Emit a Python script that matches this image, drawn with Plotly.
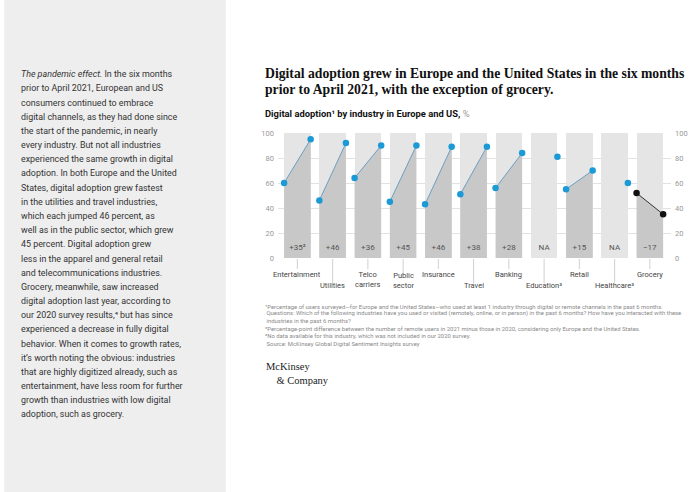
import plotly.graph_objects as go

# ---------------- data ----------------
industries = ["Entertainment", "Utilities", "Telco<br>carriers", "Public<br>sector", "Insurance",
              "Travel", "Banking", "Education³", "Retail", "Healthcare³", "Grocery"]
adoption_2020 = [60, 46, 64, 45, 43, 51, 56, None, 55, None, 52]
adoption_2021 = [95, 92, 90, 90, 89, 89, 84, 81, 70, 60, 35]
change_labels = ["+35²", "+46", "+36", "+45", "+46", "+38", "+28", "NA", "+15", "NA", "−17"]
y_ticks = [0, 20, 40, 60, 80, 100]

title_lines = ["Digital adoption grew in Europe and the United States in the six months",
               "prior to April 2021, with the exception of grocery."]
subtitle = "<b>Digital adoption¹ by industry in Europe and US, </b><span style='color:#999'>%</span>"
footnotes = [
    "¹Percentage of users surveyed—for Europe and the United States—who used at least 1 industry through digital or remote channels in the past 6 months.",
    " Questions: Which of the following industries have you used or visited (remotely, online, or in person) in the past 6 months? How have you interacted with these",
    " industries in the past 6 months?",
    "²Percentage-point difference between the number of remote users in 2021 minus those in 2020, considering only Europe and the United States.",
    "³No data available for this industry, which was not included in our 2020 survey.",
    " Source: McKinsey Global Digital Sentiment Insights survey",
]
side_text = [
    "<i>The pandemic effect.</i> In the six months",
    "prior to April 2021, European and US",
    "consumers continued to embrace",
    "digital channels, as they had done since",
    "the start of the pandemic, in nearly",
    "every industry. But not all industries",
    "experienced the same growth in digital",
    "adoption. In both Europe and the United",
    "States, digital adoption grew fastest",
    "in the utilities and travel industries,",
    "which each jumped 46 percent, as",
    "well as in the public sector, which grew",
    "45 percent. Digital adoption grew",
    "less in the apparel and general retail",
    "and telecommunications industries.",
    "Grocery, meanwhile, saw increased",
    "digital adoption last year, according to",
    "our 2020 survey results,⁴ but has since",
    "experienced a decrease in fully digital",
    "behavior. When it comes to growth rates,",
    "it’s worth noting the obvious: industries",
    "that are highly digitized already, such as",
    "entertainment, have less room for further",
    "growth than industries with low digital",
    "adoption, such as grocery.",
]

# ---------------- layout geometry (pixels) ----------------
W, H = 700, 492
L, R, T, B = 278, 677, 133, 258


def px(x):
    return (x - L) / (R - L)


def py(y):
    return (B - y) / (B - T)


SANS = "Roboto, Arial, sans-serif"
SERIF = "Liberation Serif, Times New Roman, serif"
HALF = 0.377
LIGHT = "#e5e5e5"
DARK = "#c8c8c8"
BLUE = "#1b9ad6"
BLUE_LINE = "#6a9fc6"

fig = go.Figure()
xs = list(range(len(industries)))

# full-height background columns
fig.add_trace(go.Bar(x=xs, y=[y_ticks[-1]] * len(xs), width=2 * HALF, marker_color=LIGHT,
                     marker_line_width=0, hoverinfo="skip", showlegend=False))

for i, (a, b) in enumerate(zip(adoption_2020, adoption_2021)):
    grocery = industries[i] == "Grocery"
    if a is not None:
        fig.add_trace(go.Scatter(x=[i - HALF, i - HALF, i + HALF, i + HALF], y=[0, a, b, 0],
                                 fill="toself", fillcolor=DARK, line_width=0, mode="lines",
                                 hoverinfo="skip", showlegend=False))
        fig.add_trace(go.Scatter(x=[i - HALF, i + HALF], y=[a, b], mode="lines+markers",
                                 line=dict(color="#333333" if grocery else BLUE_LINE, width=1),
                                 marker=dict(size=6.5, color="#111111" if grocery else BLUE),
                                 cliponaxis=False, showlegend=False))
    else:
        fig.add_trace(go.Scatter(x=[i + HALF], y=[b], mode="markers",
                                 marker=dict(size=6.5, color=BLUE), cliponaxis=False,
                                 showlegend=False))

# change labels inside columns
fig.add_trace(go.Scatter(x=xs, y=[8] * len(xs), mode="text", text=change_labels,
                         textfont=dict(family=SANS, size=8, color="#555555"),
                         hoverinfo="skip", showlegend=False))

# invisible trace for right axis
fig.add_trace(go.Scatter(x=xs, y=adoption_2021, yaxis="y2", mode="markers",
                         marker=dict(opacity=0), hoverinfo="skip", showlegend=False))

shapes = [dict(type="rect", xref="paper", yref="paper", x0=px(0), x1=px(225), y0=py(0), y1=py(H),
               fillcolor="#eeeeee", line_width=0, layer="below")]
annotations = []

# category labels with leader lines
for i, name in enumerate(industries):
    nlines = name.count("<br>") + 1
    if i % 2 == 0:
        top = 268
        annotations.append(dict(x=i, y=py(top), xref="x", yref="paper", text=name, showarrow=False,
                                xanchor="center", yanchor="top", align="center",
                                font=dict(family=SANS, size=7.5, color="#444444")))
    else:
        bottom = 292
        top = bottom - 9.5 * nlines
        annotations.append(dict(x=i, y=py(bottom), xref="x", yref="paper", text=name, showarrow=False,
                                xanchor="center", yanchor="bottom", align="center",
                                font=dict(family=SANS, size=7.5, color="#444444")))
    shapes.append(dict(type="line", xref="x", yref="paper", x0=i, x1=i, y0=py(B + 1), y1=py(top + 1),
                       line=dict(color="#bbbbbb", width=0.7)))

# title
for k, line in enumerate(title_lines):
    annotations.append(dict(x=px(263), y=py(73.5 + 16 * k), xref="paper", yref="paper",
                            text="<b>" + line + "</b>", showarrow=False, xanchor="left", yanchor="middle",
                            font=dict(family=SERIF, size=13.7, color="#111111")))
annotations.append(dict(x=px(263), y=py(113), xref="paper", yref="paper", text=subtitle, showarrow=False,
                        xanchor="left", yanchor="middle", font=dict(family=SANS, size=9.4, color="#111111")))

# footnotes
for k, line in enumerate(footnotes):
    annotations.append(dict(x=px(263), y=py(306 + 7.4 * k), xref="paper", yref="paper", text=line,
                            showarrow=False, xanchor="left", yanchor="middle",
                            font=dict(family=SANS, size=5.95, color="#8a8a8a")))

# logo
annotations.append(dict(x=px(264), y=py(359), xref="paper", yref="paper",
                        text="McKinsey<br>&nbsp;&nbsp;&nbsp;&nbsp;&amp; Company", showarrow=False,
                        xanchor="left", yanchor="top", align="left",
                        font=dict(family=SERIF, size=10.5, color="#222222")))

# side text
for k, line in enumerate(side_text):
    annotations.append(dict(x=px(15), y=py(74.3 + 14.17 * k), xref="paper", yref="paper", text=line,
                            showarrow=False, xanchor="left", yanchor="middle",
                            font=dict(family=SANS, size=8.9, color="#333333")))

axis_font = dict(family=SANS, size=7.5, color="#999999")
fig.update_layout(
    width=W, height=H,
    margin=dict(l=L, r=W - R, t=T, b=H - B, pad=0),
    paper_bgcolor="white", plot_bgcolor="white",
    bargap=0,
    xaxis=dict(range=[-0.55, 10.6], showticklabels=False, showgrid=False, zeroline=False,
               showline=False, ticks=""),
    yaxis=dict(range=[0, 100], tickvals=y_ticks, showgrid=True, gridcolor="#e2e2e2", gridwidth=1,
               zeroline=False, showline=False, ticks="", tickfont=axis_font, ticklabelstandoff=3),
    yaxis2=dict(range=[0, 100], tickvals=y_ticks, overlaying="y", side="right", showgrid=False,
                zeroline=False, showline=False, ticks="", tickfont=axis_font, ticklabelstandoff=3),
    shapes=shapes,
    annotations=annotations,
    showlegend=False,
)

fig.write_html("out.html", config={"displayModeBar": False},
               post_script="document.body.style.margin='0';")
